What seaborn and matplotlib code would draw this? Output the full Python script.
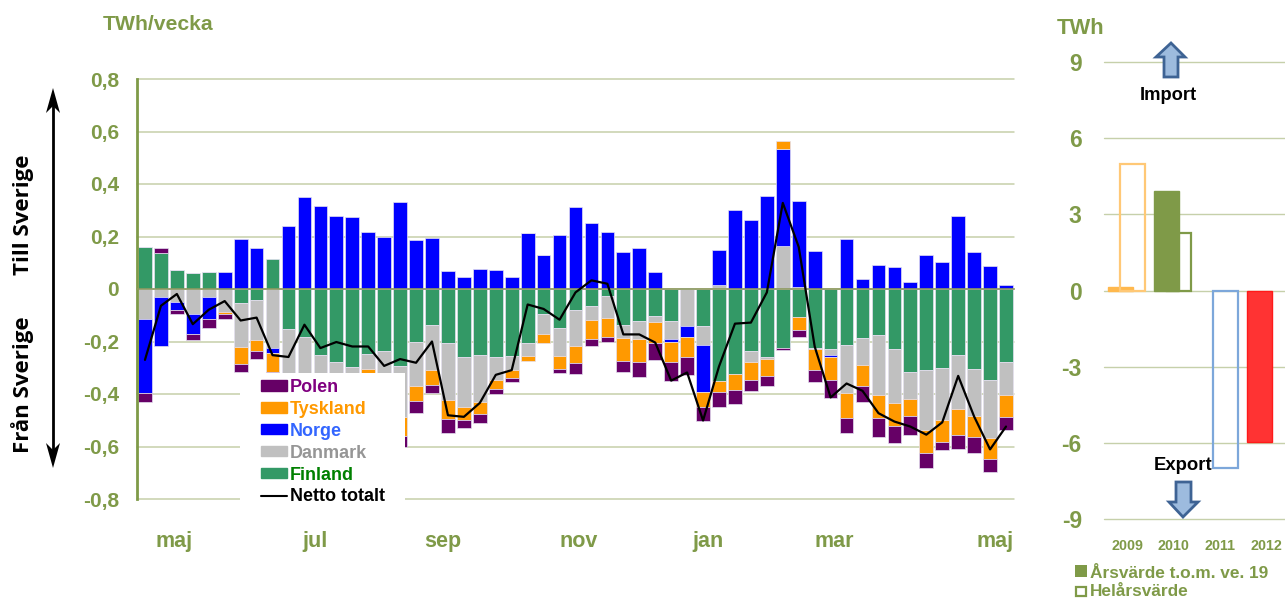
import numpy as np
import pandas as pd
import matplotlib
matplotlib.use("Agg")
import matplotlib.pyplot as plt
from matplotlib.transforms import Affine2D
from matplotlib.patches import Polygon, Rectangle
from matplotlib.lines import Line2D
import seaborn as sns

# Weekly values, TWh/vecka (those behind the legend box are estimated)
finland = [0.159, 0.137, 0.0725, 0.061, 0.065, 0, -0.052, -0.042, 0.113, -0.151, -0.181, -0.251, -0.277, -0.296,
           -0.247, -0.235, -0.293, -0.2, -0.136, -0.204, -0.258, -0.251, -0.258, -0.254, -0.204, -0.094, -0.148,
           -0.079, -0.064, -0.027, -0.136, -0.121, -0.102, -0.121, 0.005, -0.142, -0.352, -0.323, -0.235, -0.26,
           -0.223, -0.107, -0.225, -0.228, -0.212, -0.188, -0.177, -0.229, -0.316, -0.308, -0.30, -0.251, -0.304,
           -0.346, -0.277]
danmark = [-0.113, -0.032, -0.05, -0.095, -0.032, -0.088, -0.170, -0.151, -0.226, -0.25, -0.2, -0.19, -0.12, -0.11,
           -0.059, -0.16, -0.193, -0.168, -0.172, -0.218, -0.193, -0.179, -0.088, -0.055, -0.05, -0.076, -0.106,
           -0.14, -0.053, -0.084, -0.05, -0.069, -0.024, -0.069, -0.14, -0.073, 0.016, 0, -0.043, -0.005, 0.163,
           0.006, -0.004, -0.022, -0.183, -0.103, -0.226, -0.204, -0.102, -0.229, -0.198, -0.207, -0.179, -0.221,
           -0.125]
norge = [-0.284, -0.187, -0.029, -0.076, -0.083, 0.065, 0.192, 0.155, -0.017, 0.24, 0.35, 0.317, 0.279, 0.275,
         0.219, 0.197, 0.332, 0.188, 0.196, 0.069, 0.046, 0.076, 0.073, 0.046, 0.214, 0.128, 0.204, 0.312, 0.252,
         0.218, 0.14, 0.158, 0.065, -0.01, -0.041, -0.178, 0.134, 0.30, 0.263, 0.356, 0.369, 0.331, 0.144, -0.009,
         0.192, 0.039, 0.092, 0.084, 0.028, 0.128, 0.103, 0.279, 0.14, 0.088, 0.017]
tyskland = [0, 0, 0, 0, 0, -0.008, -0.064, -0.043, -0.073, -0.06, -0.07, -0.065, -0.05, -0.055, -0.09, -0.06, -0.074,
            -0.06, -0.057, -0.074, -0.047, -0.046, -0.034, -0.029, -0.02, -0.036, -0.052, -0.064, -0.073, -0.071,
            -0.089, -0.089, -0.081, -0.079, -0.079, -0.057, -0.042, -0.06, -0.067, -0.066, 0.031, -0.048, -0.079,
            -0.088, -0.095, -0.08, -0.088, -0.089, -0.066, -0.088, -0.085, -0.097, -0.079, -0.081, -0.085]
polen = [-0.034, 0.019, -0.017, -0.024, -0.032, -0.018, -0.029, -0.031, -0.005, -0.038, -0.035, -0.036, -0.034,
         -0.033, -0.042, -0.035, -0.041, -0.045, -0.032, -0.051, -0.033, -0.033, -0.02, -0.018, 0, 0, -0.014, -0.039,
         -0.028, -0.019, -0.041, -0.055, -0.062, -0.07, -0.066, -0.051, -0.056, -0.056, -0.045, -0.037, -0.011,
         -0.029, -0.048, -0.067, -0.06, -0.06, -0.071, -0.066, -0.071, -0.056, -0.031, -0.056, -0.064, -0.051, -0.052]
netto = [-0.27, -0.064, -0.019, -0.134, -0.079, -0.046, -0.12, -0.109, -0.252, -0.259, -0.136, -0.225, -0.202,
         -0.219, -0.219, -0.293, -0.267, -0.281, -0.2, -0.481, -0.487, -0.434, -0.327, -0.309, -0.059, -0.076,
         -0.117, -0.013, 0.033, 0.02, -0.173, -0.173, -0.204, -0.349, -0.318, -0.501, -0.295, -0.132, -0.128,
         -0.013, 0.328, 0.16, -0.219, -0.413, -0.36, -0.388, -0.473, -0.505, -0.524, -0.555, -0.508, -0.331,
         -0.486, -0.611, -0.524]
month_labels = ["maj", "jul", "sep", "nov", "jan", "mar", "maj"]
month_at = [1.82, 10.67, 18.7, 27.2, 35.3, 43.2, 53.3]
ytick_values = [0.8, 0.6, 0.4, 0.2, 0, -0.2, -0.4, -0.6, -0.8]
ytick_labels = ["0,8", "0,6", "0,4", "0,2", "0", "-0,2", "-0,4", "-0,6", "-0,8"]

# Yearly values, TWh
years = ["2009", "2010", "2011", "2012"]
arsvarde = [0.15, 3.93, 0, -5.98]
helarsvarde = [5.0, 2.28, -7.0, 0]
year_ticks = [9, 6, 3, 0, -3, -6, -9]

OLIVE = "#7F9A48"
GRID = "#C6D0AA"

sns.set_theme(style="white")
plt.rcParams["font.family"] = ["Liberation Sans", "DejaVu Sans"]
plt.rcParams["font.weight"] = "bold"
plt.rcParams["axes.unicode_minus"] = False

W, H = 1285, 600
fig = plt.figure(figsize=(W / 100, H / 100), dpi=100, facecolor="white")
# everything placed by hand on the figure is given in picture pixels
pix = Affine2D().scale(1 / W, -1 / H).translate(0, 1) + fig.transFigure


def make_axes(left, top, right, bottom):
    return fig.add_axes([left / W, 1 - bottom / H, (right - left) / W, (bottom - top) / H])


# Weekly chart
ax = make_axes(137, 79, 1014, 499)
weeks = np.arange(len(netto))
pos_base = np.zeros(len(weeks))
neg_base = np.zeros(len(weeks))
stack = [(finland, "#339966"), (danmark, "#C0C0C0"), (norge, "#0000FF"), (tyskland, "#FF9900"), (polen, "#660066")]
for values, colour in stack:
    values = np.array(values)
    base = np.where(values >= 0, pos_base, neg_base)
    sns.barplot(x=weeks, y=values, bottom=base, color=colour, saturation=1, width=0.86, errorbar=None,
                edgecolor="#E4E0F0", linewidth=0.5, ax=ax)
    pos_base += np.clip(values, 0, None)
    neg_base += np.clip(values, None, 0)
sns.lineplot(x=weeks, y=netto, color="black", linewidth=1.6, errorbar=None, zorder=4, ax=ax)

ax.set_xlim(-0.5, len(weeks) - 0.5)
ax.set_ylim(-0.8, 0.8)
ax.set_yticks(ytick_values, ytick_labels)
ax.set_xticks(np.arange(3.5, len(weeks) - 0.5, 4), [])
ax.set_xlabel("")
ax.set_ylabel("")
ax.set_axisbelow(True)
ax.grid(axis="y", color=GRID, linewidth=1.1, clip_on=False)
ax.spines[["top", "right"]].set_visible(False)
ax.spines["left"].set_color(OLIVE)
ax.spines["left"].set_linewidth(2)
ax.spines["bottom"].set_position(("data", 0))
ax.spines["bottom"].set_color("#8E9A60")
ax.spines["bottom"].set_linewidth(1.2)
ax.tick_params(axis="y", length=4, width=1.3, color=OLIVE, labelcolor=OLIVE, labelsize=15, pad=9)
ax.tick_params(axis="x", length=3.5, width=1, color=OLIVE, direction="out")
for label, at in zip(month_labels, month_at):
    ax.text(at, -0.962, label, color=OLIVE, fontsize=15.5, ha="center", va="center")

# white box of the legend hides the lower part of some bars
box = Rectangle((240, 373), 165, 137, transform=pix, facecolor="white", edgecolor="none", zorder=4.5)
ax.add_patch(box)
box.set_clip_on(False)
handles = [Rectangle((0, 0), 1, 1, color=c) for c in ["#660066", "#FF9900", "#0000FF", "#C0C0C0", "#339966"]]
handles.append(Line2D([0], [0], color="black", linewidth=1.5))
leg = ax.legend(handles, ["Polen", "Tyskland", "Norge", "Danmark", "Finland", "Netto totalt"], frameon=False,
                loc="upper left", bbox_to_anchor=(261, 379), bbox_transform=pix, borderpad=0, borderaxespad=0,
                fontsize=13, handlelength=1.45, handleheight=0.5, handletextpad=0.15, labelspacing=0.27)
leg.set_zorder(6)
for text, colour in zip(leg.get_texts(), ["#800080", "#FF9900", "#3366FF", "#969696", "#008000", "black"]):
    text.set_color(colour)

# Yearly chart
ax2 = make_axes(1104, 62, 1285, 519)
sns.barplot(x=years, y=arsvarde, hue=years, palette=["#FFB84D", OLIVE, "#7DA7DA", "#FF3333"], saturation=1,
            width=0.54, errorbar=None, legend=False, linewidth=1, ax=ax2)
sns.barplot(x=years, y=helarsvarde, hue=years, palette=["#FFC876", OLIVE, "#7DA7DA", "#FF3333"], saturation=1,
            width=0.53, fill=False, linewidth=1.6, errorbar=None, legend=False, ax=ax2)
# the two series overlap each other a bit instead of standing side by side
bars = list(ax2.patches)
filled_edges = ["#FFB84D", OLIVE, "#7DA7DA", "#FF1A1A"]
for i, bar in enumerate(bars):
    bar.set_x(bar.get_x() + (-0.15 if i < 4 else 0.115))
    if i < 4:
        bar.set_edgecolor(filled_edges[i])
    if bar.get_height() == 0:
        bar.set_visible(False)
ax2.set_xlim(-0.5, 3.4)
ax2.set_ylim(-9, 9)
ax2.set_yticks(year_ticks)
ax2.set_xlabel("")
ax2.set_ylabel("")
ax2.set_axisbelow(True)
ax2.grid(axis="y", color=GRID, linewidth=1, clip_on=False)
ax2.grid(axis="x", visible=False)
sns.despine(ax=ax2, left=True, bottom=True)
ax2.tick_params(axis="y", length=0, labelcolor=OLIVE, labelsize=16.5, pad=16)
ax2.tick_params(axis="x", length=0, labelcolor=OLIVE, labelsize=10.3, pad=14.5)

# Text and arrows around the charts
fig.text(103, 25, "TWh/vecka", transform=pix, color=OLIVE, fontsize=15.2, va="center")
fig.text(1057, 28, "TWh", transform=pix, color=OLIVE, fontsize=15.8, va="center")
fig.text(1168, 96, "Import", transform=pix, color="black", fontsize=13.2, ha="center", va="center")
fig.text(1183, 466, "Export", transform=pix, color="black", fontsize=13.3, ha="center", va="center")
fig.text(23, 215, "Till Sverige", transform=pix, color="black", fontsize=16, family="Open Sans", weight="bold",
         rotation=90, ha="center", va="center")
fig.text(23, 385, "Från Sverige", transform=pix, color="black", fontsize=16, family="Open Sans", weight="bold",
         rotation=90, ha="center", va="center")

fig.add_artist(Line2D([53, 53], [100, 455], transform=pix, color="black", linewidth=2))
fig.add_artist(Polygon([(53, 88), (60, 113), (53, 106), (46, 113)], transform=pix, facecolor="black", edgecolor="none"))
fig.add_artist(Polygon([(53, 468), (60, 443), (53, 450), (46, 443)], transform=pix, facecolor="black", edgecolor="none"))

up_arrow = [(1171, 43), (1185, 57), (1178, 57), (1178, 77), (1164, 77), (1164, 57), (1156, 57)]
down_arrow = [(1183, 517), (1198, 502), (1191, 502), (1191, 482), (1176, 482), (1176, 502), (1169, 502)]
for points in [up_arrow, down_arrow]:
    fig.add_artist(Polygon(points, transform=pix, facecolor="#9DBBDE", edgecolor="#3E6394", linewidth=2))

fig.add_artist(Rectangle((1075, 565), 12, 12, transform=pix, facecolor=OLIVE, edgecolor="none"))
fig.add_artist(Rectangle((1076, 587), 10, 9, transform=pix, facecolor="white", edgecolor=OLIVE, linewidth=1.6))
fig.text(1090, 573, "Årsvärde t.o.m. ve. 19", transform=pix, color=OLIVE, fontsize=12.4, va="center")
fig.text(1090, 592, "Helårsvärde", transform=pix, color=OLIVE, fontsize=12.4, va="center")

fig.savefig("out.png", dpi=100)
